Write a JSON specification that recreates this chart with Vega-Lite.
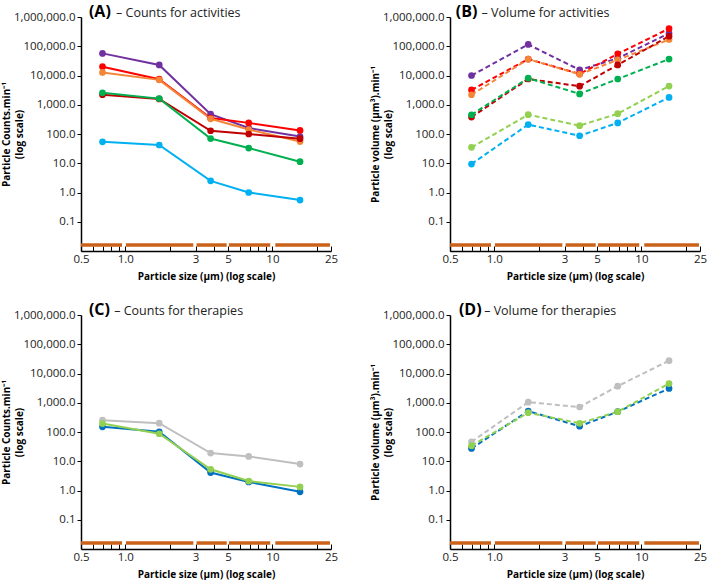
{
  "$schema": "https://vega.github.io/schema/vega-lite/v6.json",
  "padding": {"left": 1, "top": 4, "right": 5, "bottom": 0},
  "background": "white",
  "datasets": {
    "bins": [
      {"b0": 0.5, "b1": 0.95},
      {"b0": 1.01, "b1": 2.9},
      {"b0": 3.05, "b1": 4.89},
      {"b0": 5.06, "b1": 9.66},
      {"b0": 10.46, "b1": 24.6}
    ],
    "countsAct": [
      {"series": "A1", "size": 0.7, "value": 57000}, {"series": "A1", "size": 1.7, "value": 23000}, {"series": "A1", "size": 3.8, "value": 475}, {"series": "A1", "size": 6.9, "value": 160}, {"series": "A1", "size": 15.4, "value": 82},
      {"series": "A2", "size": 0.7, "value": 20000}, {"series": "A2", "size": 1.7, "value": 7500}, {"series": "A2", "size": 3.8, "value": 350}, {"series": "A2", "size": 6.9, "value": 240}, {"series": "A2", "size": 15.4, "value": 132},
      {"series": "A3", "size": 0.7, "value": 12700}, {"series": "A3", "size": 1.7, "value": 7100}, {"series": "A3", "size": 3.8, "value": 330}, {"series": "A3", "size": 6.9, "value": 142}, {"series": "A3", "size": 15.4, "value": 55},
      {"series": "A4", "size": 0.7, "value": 2200}, {"series": "A4", "size": 1.7, "value": 1580}, {"series": "A4", "size": 3.8, "value": 129}, {"series": "A4", "size": 6.9, "value": 100}, {"series": "A4", "size": 15.4, "value": 69},
      {"series": "A5", "size": 0.7, "value": 2560}, {"series": "A5", "size": 1.7, "value": 1620}, {"series": "A5", "size": 3.8, "value": 70}, {"series": "A5", "size": 6.9, "value": 33}, {"series": "A5", "size": 15.4, "value": 11.3},
      {"series": "A7", "size": 0.7, "value": 54}, {"series": "A7", "size": 1.7, "value": 42}, {"series": "A7", "size": 3.8, "value": 2.5}, {"series": "A7", "size": 6.9, "value": 1.0}, {"series": "A7", "size": 15.4, "value": 0.55}
    ],
    "volumeAct": [
      {"series": "A1", "size": 0.7, "value": 10000}, {"series": "A1", "size": 1.7, "value": 115000}, {"series": "A1", "size": 3.8, "value": 15500}, {"series": "A1", "size": 6.9, "value": 39000}, {"series": "A1", "size": 15.4, "value": 275000},
      {"series": "A2", "size": 0.7, "value": 3200}, {"series": "A2", "size": 1.7, "value": 36500}, {"series": "A2", "size": 3.8, "value": 11300}, {"series": "A2", "size": 6.9, "value": 55000}, {"series": "A2", "size": 15.4, "value": 400000},
      {"series": "A3", "size": 0.7, "value": 2200}, {"series": "A3", "size": 1.7, "value": 36000}, {"series": "A3", "size": 3.8, "value": 11000}, {"series": "A3", "size": 6.9, "value": 34000}, {"series": "A3", "size": 15.4, "value": 170000},
      {"series": "A4", "size": 0.7, "value": 380}, {"series": "A4", "size": 1.7, "value": 7600}, {"series": "A4", "size": 3.8, "value": 4300}, {"series": "A4", "size": 6.9, "value": 23000}, {"series": "A4", "size": 15.4, "value": 220000},
      {"series": "A5", "size": 0.7, "value": 455}, {"series": "A5", "size": 1.7, "value": 8100}, {"series": "A5", "size": 3.8, "value": 2350}, {"series": "A5", "size": 6.9, "value": 7600}, {"series": "A5", "size": 15.4, "value": 36500},
      {"series": "A6", "size": 0.7, "value": 35}, {"series": "A6", "size": 1.7, "value": 457}, {"series": "A6", "size": 3.8, "value": 193}, {"series": "A6", "size": 6.9, "value": 495}, {"series": "A6", "size": 15.4, "value": 4350},
      {"series": "A7", "size": 0.7, "value": 9.4}, {"series": "A7", "size": 1.7, "value": 210}, {"series": "A7", "size": 3.8, "value": 87}, {"series": "A7", "size": 6.9, "value": 240}, {"series": "A7", "size": 15.4, "value": 1780}
    ],
    "countsTher": [
      {"series": "T1", "size": 0.7, "value": 253}, {"series": "T1", "size": 1.7, "value": 200}, {"series": "T1", "size": 3.8, "value": 19}, {"series": "T1", "size": 6.9, "value": 14.6}, {"series": "T1", "size": 15.4, "value": 8.0},
      {"series": "T2", "size": 0.7, "value": 150}, {"series": "T2", "size": 1.7, "value": 102}, {"series": "T2", "size": 3.8, "value": 4.1}, {"series": "T2", "size": 6.9, "value": 1.96}, {"series": "T2", "size": 15.4, "value": 0.9},
      {"series": "T3", "size": 0.7, "value": 194}, {"series": "T3", "size": 1.7, "value": 87}, {"series": "T3", "size": 3.8, "value": 5.3}, {"series": "T3", "size": 6.9, "value": 2.1}, {"series": "T3", "size": 15.4, "value": 1.33}
    ],
    "volumeTher": [
      {"series": "T1", "size": 0.7, "value": 46}, {"series": "T1", "size": 1.7, "value": 1050}, {"series": "T1", "size": 3.8, "value": 715}, {"series": "T1", "size": 6.9, "value": 3700}, {"series": "T1", "size": 15.4, "value": 27500},
      {"series": "T2", "size": 0.7, "value": 27.4}, {"series": "T2", "size": 1.7, "value": 520}, {"series": "T2", "size": 3.8, "value": 157}, {"series": "T2", "size": 6.9, "value": 495}, {"series": "T2", "size": 15.4, "value": 3080},
      {"series": "T3", "size": 0.7, "value": 34}, {"series": "T3", "size": 1.7, "value": 458}, {"series": "T3", "size": 3.8, "value": 199}, {"series": "T3", "size": 6.9, "value": 495}, {"series": "T3", "size": 15.4, "value": 4530}
    ]
  },
  "concat": [
    {
      "width": 250, "height": 234,
      "layer": [
        {"data": {"name": "bins"}, "mark": {"type": "rule", "color": "#CB621A", "strokeWidth": 3.5},
         "encoding": {
           "x": {"field": "b0", "type": "quantitative", "scale": {"type": "log", "domain": [0.5, 25], "nice": false}, "axis": {"title": "Particle size (μm) (log scale)", "values": [0.5, 0.6, 0.7, 0.8, 0.9, 1, 2, 3, 4, 5, 6, 7, 8, 9, 10, 20, 25], "labelExpr": "datum.value==0.5?'0.5':datum.value==1?'1.0':datum.value==3?'3':datum.value==5?'5':datum.value==10?'10':datum.value==25?'25':''"}},
           "x2": {"field": "b1"},
           "y": {"datum": 0.016, "type": "quantitative", "scale": {"type": "log", "domain": [0.01, 1000000], "nice": false}, "axis": {"title": ["Particle Counts.min⁻¹", "(log scale)"], "values": [0.1, 1, 10, 100, 1000, 10000, 100000, 1000000], "format": ",.1f"}}}},
        {"data": {"name": "countsAct"}, "mark": {"type": "line", "strokeWidth": 2, "point": {"filled": true, "size": 45, "opacity": 1}},
         "encoding": {
           "x": {"field": "size", "type": "quantitative", "scale": {"type": "log", "domain": [0.5, 25], "nice": false}, "axis": {"title": "Particle size (μm) (log scale)", "values": [0.5, 0.6, 0.7, 0.8, 0.9, 1, 2, 3, 4, 5, 6, 7, 8, 9, 10, 20, 25], "labelExpr": "datum.value==0.5?'0.5':datum.value==1?'1.0':datum.value==3?'3':datum.value==5?'5':datum.value==10?'10':datum.value==25?'25':''"}},
           "y": {"field": "value", "type": "quantitative", "scale": {"type": "log", "domain": [0.01, 1000000], "nice": false}, "axis": {"title": ["Particle Counts.min⁻¹", "(log scale)"], "values": [0.1, 1, 10, 100, 1000, 10000, 100000, 1000000], "format": ",.1f"}},
           "color": {"field": "series", "type": "nominal", "legend": null,
                     "scale": {"domain": ["A1", "A2", "A3", "A4", "A5", "A6", "A7", "T1", "T2", "T3"], "range": ["#7030A0", "#FF0000", "#F4863A", "#C00000", "#00B050", "#92D050", "#00B0F0", "#BFBFBF", "#0070C0", "#92D050"]}}}},
        {"data": {"values": [{"t": "(A)", "r": "– Counts for activities"}]},
         "encoding": {
           "y": {"datum": 1000000, "type": "quantitative", "scale": {"type": "log", "domain": [0.01, 1000000], "nice": false}, "axis": {"title": ["Particle Counts.min⁻¹", "(log scale)"], "values": [0.1, 1, 10, 100, 1000, 10000, 100000, 1000000], "format": ",.1f"}}},
         "layer": [
           {"mark": {"type": "text", "font": "Open Sans", "fontWeight": "bold", "fontSize": 16, "align": "left", "baseline": "alphabetic", "color": "#000"},
            "encoding": {"x": {"datum": 0.566, "type": "quantitative", "scale": {"type": "log", "domain": [0.5, 25], "nice": false}, "axis": {"title": "Particle size (μm) (log scale)", "values": [0.5, 0.6, 0.7, 0.8, 0.9, 1, 2, 3, 4, 5, 6, 7, 8, 9, 10, 20, 25], "labelExpr": "datum.value==0.5?'0.5':datum.value==1?'1.0':datum.value==3?'3':datum.value==5?'5':datum.value==10?'10':datum.value==25?'25':''"}}, "text": {"field": "t"}}},
           {"mark": {"type": "text", "font": "Open Sans", "fontSize": 12.5, "align": "left", "baseline": "alphabetic", "color": "#222"},
            "encoding": {"x": {"datum": 0.865, "type": "quantitative", "scale": {"type": "log", "domain": [0.5, 25], "nice": false}, "axis": {"title": "Particle size (μm) (log scale)", "values": [0.5, 0.6, 0.7, 0.8, 0.9, 1, 2, 3, 4, 5, 6, 7, 8, 9, 10, 20, 25], "labelExpr": "datum.value==0.5?'0.5':datum.value==1?'1.0':datum.value==3?'3':datum.value==5?'5':datum.value==10?'10':datum.value==25?'25':''"}}, "text": {"field": "r"}}}
         ]}
      ]
    },
    {
      "width": 250, "height": 234,
      "layer": [
        {"data": {"name": "bins"}, "mark": {"type": "rule", "color": "#CB621A", "strokeWidth": 3.5},
         "encoding": {
           "x": {"field": "b0", "type": "quantitative", "scale": {"type": "log", "domain": [0.5, 25], "nice": false}, "axis": {"title": "Particle size (μm) (log scale)", "values": [0.5, 0.6, 0.7, 0.8, 0.9, 1, 2, 3, 4, 5, 6, 7, 8, 9, 10, 20, 25], "labelExpr": "datum.value==0.5?'0.5':datum.value==1?'1.0':datum.value==3?'3':datum.value==5?'5':datum.value==10?'10':datum.value==25?'25':''"}},
           "x2": {"field": "b1"},
           "y": {"datum": 0.016, "type": "quantitative", "scale": {"type": "log", "domain": [0.01, 1000000], "nice": false}, "axis": {"title": ["Particle  volume (μm³).min⁻¹", "(log scale)"], "values": [0.1, 1, 10, 100, 1000, 10000, 100000, 1000000], "format": ",.1f"}}}},
        {"data": {"name": "volumeAct"}, "mark": {"type": "line", "strokeWidth": 2, "strokeDash": [5, 3], "point": {"filled": true, "size": 45, "opacity": 1}},
         "encoding": {
           "x": {"field": "size", "type": "quantitative", "scale": {"type": "log", "domain": [0.5, 25], "nice": false}, "axis": {"title": "Particle size (μm) (log scale)", "values": [0.5, 0.6, 0.7, 0.8, 0.9, 1, 2, 3, 4, 5, 6, 7, 8, 9, 10, 20, 25], "labelExpr": "datum.value==0.5?'0.5':datum.value==1?'1.0':datum.value==3?'3':datum.value==5?'5':datum.value==10?'10':datum.value==25?'25':''"}},
           "y": {"field": "value", "type": "quantitative", "scale": {"type": "log", "domain": [0.01, 1000000], "nice": false}, "axis": {"title": ["Particle  volume (μm³).min⁻¹", "(log scale)"], "values": [0.1, 1, 10, 100, 1000, 10000, 100000, 1000000], "format": ",.1f"}},
           "color": {"field": "series", "type": "nominal", "legend": null,
                     "scale": {"domain": ["A1", "A2", "A3", "A4", "A5", "A6", "A7", "T1", "T2", "T3"], "range": ["#7030A0", "#FF0000", "#F4863A", "#C00000", "#00B050", "#92D050", "#00B0F0", "#BFBFBF", "#0070C0", "#92D050"]}}}},
        {"data": {"values": [{"t": "(B)", "r": "– Volume for activities"}]},
         "encoding": {
           "y": {"datum": 1000000, "type": "quantitative", "scale": {"type": "log", "domain": [0.01, 1000000], "nice": false}, "axis": {"title": ["Particle  volume (μm³).min⁻¹", "(log scale)"], "values": [0.1, 1, 10, 100, 1000, 10000, 100000, 1000000], "format": ",.1f"}}},
         "layer": [
           {"mark": {"type": "text", "font": "Open Sans", "fontWeight": "bold", "fontSize": 16, "align": "left", "baseline": "alphabetic", "color": "#000"},
            "encoding": {"x": {"datum": 0.547, "type": "quantitative", "scale": {"type": "log", "domain": [0.5, 25], "nice": false}, "axis": {"title": "Particle size (μm) (log scale)", "values": [0.5, 0.6, 0.7, 0.8, 0.9, 1, 2, 3, 4, 5, 6, 7, 8, 9, 10, 20, 25], "labelExpr": "datum.value==0.5?'0.5':datum.value==1?'1.0':datum.value==3?'3':datum.value==5?'5':datum.value==10?'10':datum.value==25?'25':''"}}, "text": {"field": "t"}}},
           {"mark": {"type": "text", "font": "Open Sans", "fontSize": 12.5, "align": "left", "baseline": "alphabetic", "color": "#222"},
            "encoding": {"x": {"datum": 0.82, "type": "quantitative", "scale": {"type": "log", "domain": [0.5, 25], "nice": false}, "axis": {"title": "Particle size (μm) (log scale)", "values": [0.5, 0.6, 0.7, 0.8, 0.9, 1, 2, 3, 4, 5, 6, 7, 8, 9, 10, 20, 25], "labelExpr": "datum.value==0.5?'0.5':datum.value==1?'1.0':datum.value==3?'3':datum.value==5?'5':datum.value==10?'10':datum.value==25?'25':''"}}, "text": {"field": "r"}}}
         ]}
      ]
    },
    {
      "width": 250, "height": 234,
      "layer": [
        {"data": {"name": "bins"}, "mark": {"type": "rule", "color": "#CB621A", "strokeWidth": 3.5},
         "encoding": {
           "x": {"field": "b0", "type": "quantitative", "scale": {"type": "log", "domain": [0.5, 25], "nice": false}, "axis": {"title": "Particle size (μm) (log scale)", "values": [0.5, 0.6, 0.7, 0.8, 0.9, 1, 2, 3, 4, 5, 6, 7, 8, 9, 10, 20, 25], "labelExpr": "datum.value==0.5?'0.5':datum.value==1?'1.0':datum.value==3?'3':datum.value==5?'5':datum.value==10?'10':datum.value==25?'25':''"}},
           "x2": {"field": "b1"},
           "y": {"datum": 0.016, "type": "quantitative", "scale": {"type": "log", "domain": [0.01, 1000000], "nice": false}, "axis": {"title": ["Particle Counts.min⁻¹", "(log scale)"], "values": [0.1, 1, 10, 100, 1000, 10000, 100000, 1000000], "format": ",.1f"}}}},
        {"data": {"name": "countsTher"}, "mark": {"type": "line", "strokeWidth": 2, "point": {"filled": true, "size": 45, "opacity": 1}},
         "encoding": {
           "x": {"field": "size", "type": "quantitative", "scale": {"type": "log", "domain": [0.5, 25], "nice": false}, "axis": {"title": "Particle size (μm) (log scale)", "values": [0.5, 0.6, 0.7, 0.8, 0.9, 1, 2, 3, 4, 5, 6, 7, 8, 9, 10, 20, 25], "labelExpr": "datum.value==0.5?'0.5':datum.value==1?'1.0':datum.value==3?'3':datum.value==5?'5':datum.value==10?'10':datum.value==25?'25':''"}},
           "y": {"field": "value", "type": "quantitative", "scale": {"type": "log", "domain": [0.01, 1000000], "nice": false}, "axis": {"title": ["Particle Counts.min⁻¹", "(log scale)"], "values": [0.1, 1, 10, 100, 1000, 10000, 100000, 1000000], "format": ",.1f"}},
           "color": {"field": "series", "type": "nominal", "legend": null,
                     "scale": {"domain": ["A1", "A2", "A3", "A4", "A5", "A6", "A7", "T1", "T2", "T3"], "range": ["#7030A0", "#FF0000", "#F4863A", "#C00000", "#00B050", "#92D050", "#00B0F0", "#BFBFBF", "#0070C0", "#92D050"]}}}},
        {"data": {"values": [{"t": "(C)", "r": "– Counts for therapies"}]},
         "encoding": {
           "y": {"datum": 1000000, "type": "quantitative", "scale": {"type": "log", "domain": [0.01, 1000000], "nice": false}, "axis": {"title": ["Particle Counts.min⁻¹", "(log scale)"], "values": [0.1, 1, 10, 100, 1000, 10000, 100000, 1000000], "format": ",.1f"}}},
         "layer": [
           {"mark": {"type": "text", "font": "Open Sans", "fontWeight": "bold", "fontSize": 16, "align": "left", "baseline": "alphabetic", "color": "#000"},
            "encoding": {"x": {"datum": 0.566, "type": "quantitative", "scale": {"type": "log", "domain": [0.5, 25], "nice": false}, "axis": {"title": "Particle size (μm) (log scale)", "values": [0.5, 0.6, 0.7, 0.8, 0.9, 1, 2, 3, 4, 5, 6, 7, 8, 9, 10, 20, 25], "labelExpr": "datum.value==0.5?'0.5':datum.value==1?'1.0':datum.value==3?'3':datum.value==5?'5':datum.value==10?'10':datum.value==25?'25':''"}}, "text": {"field": "t"}}},
           {"mark": {"type": "text", "font": "Open Sans", "fontSize": 12.5, "align": "left", "baseline": "alphabetic", "color": "#222"},
            "encoding": {"x": {"datum": 0.84, "type": "quantitative", "scale": {"type": "log", "domain": [0.5, 25], "nice": false}, "axis": {"title": "Particle size (μm) (log scale)", "values": [0.5, 0.6, 0.7, 0.8, 0.9, 1, 2, 3, 4, 5, 6, 7, 8, 9, 10, 20, 25], "labelExpr": "datum.value==0.5?'0.5':datum.value==1?'1.0':datum.value==3?'3':datum.value==5?'5':datum.value==10?'10':datum.value==25?'25':''"}}, "text": {"field": "r"}}}
         ]}
      ]
    },
    {
      "width": 250, "height": 234,
      "layer": [
        {"data": {"name": "bins"}, "mark": {"type": "rule", "color": "#CB621A", "strokeWidth": 3.5},
         "encoding": {
           "x": {"field": "b0", "type": "quantitative", "scale": {"type": "log", "domain": [0.5, 25], "nice": false}, "axis": {"title": "Particle size (μm) (log scale)", "values": [0.5, 0.6, 0.7, 0.8, 0.9, 1, 2, 3, 4, 5, 6, 7, 8, 9, 10, 20, 25], "labelExpr": "datum.value==0.5?'0.5':datum.value==1?'1.0':datum.value==3?'3':datum.value==5?'5':datum.value==10?'10':datum.value==25?'25':''"}},
           "x2": {"field": "b1"},
           "y": {"datum": 0.016, "type": "quantitative", "scale": {"type": "log", "domain": [0.01, 1000000], "nice": false}, "axis": {"title": ["Particle  volume (μm³).min⁻¹", "(log scale)"], "values": [0.1, 1, 10, 100, 1000, 10000, 100000, 1000000], "format": ",.1f"}}}},
        {"data": {"name": "volumeTher"}, "mark": {"type": "line", "strokeWidth": 2, "strokeDash": [5, 3], "point": {"filled": true, "size": 45, "opacity": 1}},
         "encoding": {
           "x": {"field": "size", "type": "quantitative", "scale": {"type": "log", "domain": [0.5, 25], "nice": false}, "axis": {"title": "Particle size (μm) (log scale)", "values": [0.5, 0.6, 0.7, 0.8, 0.9, 1, 2, 3, 4, 5, 6, 7, 8, 9, 10, 20, 25], "labelExpr": "datum.value==0.5?'0.5':datum.value==1?'1.0':datum.value==3?'3':datum.value==5?'5':datum.value==10?'10':datum.value==25?'25':''"}},
           "y": {"field": "value", "type": "quantitative", "scale": {"type": "log", "domain": [0.01, 1000000], "nice": false}, "axis": {"title": ["Particle  volume (μm³).min⁻¹", "(log scale)"], "values": [0.1, 1, 10, 100, 1000, 10000, 100000, 1000000], "format": ",.1f"}},
           "color": {"field": "series", "type": "nominal", "legend": null,
                     "scale": {"domain": ["A1", "A2", "A3", "A4", "A5", "A6", "A7", "T1", "T2", "T3"], "range": ["#7030A0", "#FF0000", "#F4863A", "#C00000", "#00B050", "#92D050", "#00B0F0", "#BFBFBF", "#0070C0", "#92D050"]}}}},
        {"data": {"values": [{"t": "(D)", "r": "– Volume for therapies"}]},
         "encoding": {
           "y": {"datum": 1000000, "type": "quantitative", "scale": {"type": "log", "domain": [0.01, 1000000], "nice": false}, "axis": {"title": ["Particle  volume (μm³).min⁻¹", "(log scale)"], "values": [0.1, 1, 10, 100, 1000, 10000, 100000, 1000000], "format": ",.1f"}}},
         "layer": [
           {"mark": {"type": "text", "font": "Open Sans", "fontWeight": "bold", "fontSize": 16, "align": "left", "baseline": "alphabetic", "color": "#000"},
            "encoding": {"x": {"datum": 0.575, "type": "quantitative", "scale": {"type": "log", "domain": [0.5, 25], "nice": false}, "axis": {"title": "Particle size (μm) (log scale)", "values": [0.5, 0.6, 0.7, 0.8, 0.9, 1, 2, 3, 4, 5, 6, 7, 8, 9, 10, 20, 25], "labelExpr": "datum.value==0.5?'0.5':datum.value==1?'1.0':datum.value==3?'3':datum.value==5?'5':datum.value==10?'10':datum.value==25?'25':''"}}, "text": {"field": "t"}}},
           {"mark": {"type": "text", "font": "Open Sans", "fontSize": 12.5, "align": "left", "baseline": "alphabetic", "color": "#222"},
            "encoding": {"x": {"datum": 0.853, "type": "quantitative", "scale": {"type": "log", "domain": [0.5, 25], "nice": false}, "axis": {"title": "Particle size (μm) (log scale)", "values": [0.5, 0.6, 0.7, 0.8, 0.9, 1, 2, 3, 4, 5, 6, 7, 8, 9, 10, 20, 25], "labelExpr": "datum.value==0.5?'0.5':datum.value==1?'1.0':datum.value==3?'3':datum.value==5?'5':datum.value==10?'10':datum.value==25?'25':''"}}, "text": {"field": "r"}}}
         ]}
      ]
    }
  ],
  "columns": 2,
  "spacing": {"row": 64, "column": 119},
  "bounds": "flush",
  "config": {
    "view": {"stroke": null},
    "axis": {"grid": false, "domainColor": "#000", "domainWidth": 1.5, "tickColor": "#000", "tickWidth": 1, "labelFont": "Open Sans", "labelFontSize": 11.5, "labelColor": "#222", "titleFont": "Open Sans", "titleFontWeight": "bold", "titleFontSize": 10, "titleColor": "#000"},
    "axisX": {"tickSize": -5, "labelPadding": 7, "titlePadding": 7, "labelFlush": false, "labelOverlap": false},
    "axisY": {"tickSize": 4, "labelPadding": 2, "titlePadding": -11, "titleLineHeight": 13}
  }
}
